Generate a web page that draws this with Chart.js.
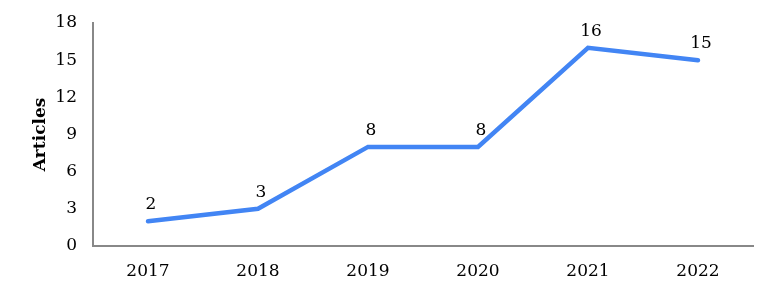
<!DOCTYPE html>
<html><head><meta charset="utf-8">
<script src="https://cdn.jsdelivr.net/npm/chart.js@4"></script>
<style>html,body{margin:0;padding:0;background:#fff}canvas{display:block}</style>
</head><body>
<canvas id="c" width="775" height="294"></canvas>
<script>
const categories = ["2017","2018","2019","2020","2021","2022"];
const articles = [2, 3, 8, 8, 16, 15];
const yTicks = [0, 3, 6, 9, 12, 15, 18];

const FONT = "'DejaVu Serif', serif";
const labelPlugin = {
  id: 'labels',
  afterDatasetsDraw(chart) {
    const ctx = chart.ctx;
    const meta = chart.getDatasetMeta(0);
    ctx.save();
    ctx.font = "17px " + FONT;
    ctx.fillStyle = "#000";
    ctx.textAlign = "center";
    ctx.textBaseline = "bottom";
    meta.data.forEach((pt, i) => {
      ctx.fillText(String(articles[i]), pt.x + 3, pt.y - 8);
    });
    ctx.restore();
  }
};

new Chart(document.getElementById('c'), {
  type: 'line',
  data: {
    labels: categories,
    datasets: [{
      data: articles,
      borderColor: '#4285F4',
      borderWidth: 4.5,
      pointRadius: 0,
      tension: 0,
      borderCapStyle: 'round',
      borderJoinStyle: 'miter'
    }]
  },
  options: {
    responsive: false,
    animation: false,
    layout: { padding: { top: 23, right: 22, left: 30, bottom: 0 } },
    plugins: { legend: { display: false }, tooltip: { enabled: false } },
    scales: {
      x: {
        offset: true,
        grid: { display: false, drawTicks: false },
        border: { display: true, color: '#888', width: 2 },
        ticks: { color: '#000', font: { family: FONT, size: 17 }, padding: 15, maxRotation: 0 },
        afterFit(s) { s.height = 48; }
      },
      y: {
        min: 0, max: 18,
        afterBuildTicks(s) { s.ticks = yTicks.map(v => ({ value: v })); },
        grid: { display: false, drawTicks: false },
        border: { display: true, color: '#888', width: 2 },
        ticks: { color: '#000', font: { family: FONT, size: 17 }, padding: 16 },
        title: { display: true, text: 'Articles', color: '#000', font: { family: FONT, size: 17, weight: 'bold' }, padding: { top: 0, bottom: 8 } },
        afterFit(s) { s.width = 63; s.paddingTop = 0; s.paddingBottom = 0; }
      }
    }
  },
  plugins: [labelPlugin]
});
</script>
</body></html>
